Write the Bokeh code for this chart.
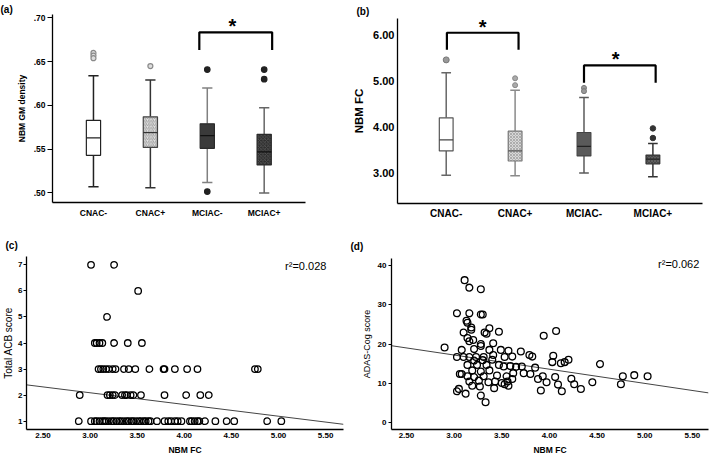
from bokeh.plotting import figure
from bokeh.layouts import column, row
from bokeh.models import (FixedTicker, CustomJSTickFormatter, PrintfTickFormatter,
                          Label, Range1d)
from bokeh.embed import file_html
from bokeh.resources import INLINE

FONT = "Liberation Sans"

groups = ["CNAC-", "CNAC+", "MCIAC-", "MCIAC+"]

# ---- panel (a): NBM GM density box plots ----
gm_q1 = [0.543, 0.552, 0.551, 0.532]
gm_med = [0.563, 0.569, 0.5655, 0.547]
gm_q3 = [0.583, 0.587, 0.579, 0.567]
gm_lo = [0.507, 0.506, 0.512, 0.500]
gm_hi = [0.634, 0.629, 0.620, 0.5975]
gm_out_group = [0, 0, 0, 1, 2, 2, 3, 3]
gm_out_val = [0.660, 0.657, 0.654, 0.645, 0.641, 0.5015, 0.641, 0.630]

# ---- panel (b): NBM FC box plots ----
fc_q1 = [3.47, 3.25, 3.36, 3.19]
fc_med = [3.71, 3.47, 3.57, 3.29]
fc_q3 = [4.19, 3.90, 3.87, 3.38]
fc_lo = [2.94, 2.93, 2.99, 2.91]
fc_hi = [5.17, 4.79, 4.63, 3.63]
fc_out_group = [0, 1, 1, 2, 2, 3, 3]
fc_out_val = [5.45, 5.05, 4.90, 4.84, 4.77, 3.96, 3.75]

# ---- panel (c): NBM FC vs total ACB score ----
acb_fc = [
    2.88, 3.01, 3.05, 3.07, 3.10, 3.13, 3.15, 3.17, 3.20, 3.23, 3.25, 3.28, 3.31, 3.33,
    3.36, 3.39, 3.41, 3.44, 3.46, 3.49, 3.52, 3.54, 3.57, 3.59, 3.62, 3.64, 3.71, 3.79,
    3.83, 3.86, 3.90, 3.93, 3.97, 4.06, 4.08, 4.11, 4.14, 4.16, 4.22, 4.33, 4.45, 4.53,
    4.88, 5.03,
    2.89, 3.185, 3.21, 3.24, 3.265, 3.34, 3.37, 3.39, 3.43, 3.46, 3.54, 3.79, 4.02, 4.17, 4.26,
    3.09, 3.115, 3.14, 3.17, 3.20, 3.24, 3.27, 3.36, 3.41, 3.48, 3.63, 3.78, 3.79, 3.90,
    4.03, 4.14, 4.75, 4.78,
    3.05, 3.07, 3.10, 3.13, 3.255, 3.40, 3.55,
    3.18,
    3.51,
    3.01, 3.255,
]
acb_score = [1] * 44 + [2] * 15 + [3] * 18 + [4] * 7 + [5] + [6] + [7] * 2
acb_fit_intercept = 3.44
acb_fit_slope = -0.45

# ---- panel (d): NBM FC vs ADAS-Cog score ----
adas_fc = [
    3.11, 3.16, 3.28, 3.03, 3.16, 3.28, 3.30, 3.13, 3.14, 3.18, 3.18, 3.37, 3.32, 3.47,
    3.10, 3.34, 3.14, 3.16, 3.20, 3.28, 3.41, 3.28, 2.90, 3.08, 3.21, 3.37, 3.49, 3.57,
    3.70, 3.79, 3.03, 3.10, 3.16, 3.31, 3.41, 3.61, 3.53, 3.23,
    3.21, 3.30, 3.40, 3.14, 3.24, 3.34, 3.47, 3.52, 3.59, 3.65, 3.71, 3.19, 3.28, 3.37,
    3.62, 3.73, 3.08, 3.06, 3.14, 3.21, 3.31, 3.45, 3.55, 3.61, 3.16, 3.26, 3.36, 3.43,
    3.50, 3.56, 3.19, 3.27, 3.42, 3.53, 3.57, 3.03, 3.05, 3.12, 3.28, 3.33,
    3.94, 4.07, 3.82, 4.04, 4.03, 4.12, 4.16, 4.20, 4.53, 3.85, 3.80, 3.88, 3.93, 3.97,
    4.06, 4.09, 4.23, 4.26, 4.33, 4.45, 3.91, 4.13, 4.75, 4.77, 4.89, 5.03,
]
adas_score = [
    36.2, 34.3, 33.9, 27.8, 27.8, 27.5, 27.5, 25.9, 25.4, 24.2, 23.6, 24.0, 22.9, 23.1,
    22.9, 22.6, 21.5, 20.7, 21.0, 20.0, 20.2, 19.5, 19.1, 18.5, 18.7, 18.5, 18.5, 18.3,
    18.1, 17.2, 16.7, 16.7, 16.7, 16.7, 17.2, 16.8, 16.7, 16.7,
    15.8, 15.9, 16.0, 14.7, 14.7, 14.7, 14.7, 14.3, 14.4, 14.2, 14.3, 13.3, 13.0, 13.3,
    12.6, 12.6, 12.4, 12.4, 11.8, 11.6, 11.8, 12.0, 11.8, 11.1, 10.5, 10.7, 10.3, 10.5,
    10.1, 10.5, 9.4, 9.2, 8.8, 9.8, 9.4, 8.0, 8.6, 7.4, 6.9, 5.2,
    22.1, 23.3, 16.8, 17.0, 15.4, 15.1, 15.4, 16.0, 14.9, 14.0, 12.4, 11.1, 11.8, 10.3,
    11.6, 9.7, 11.2, 9.8, 8.6, 10.3, 8.2, 8.0, 9.8, 11.8, 12.1, 11.8,
]
adas_fit_intercept = 28.0
adas_fit_slope = -3.6


def make_fig(title, w, h, xr, yr, left, right, top, bottom, title_standoff):
    p = figure(width=w, height=h, x_range=Range1d(*xr), y_range=Range1d(*yr),
               output_backend="svg", toolbar_location=None, title=title,
               min_border_left=left, min_border_right=right,
               min_border_top=top, min_border_bottom=bottom, frame_align=False)
    p.title.align = "left"
    p.title.offset = -left
    p.title.standoff = title_standoff
    p.title.text_font = FONT
    p.title.text_font_style = "bold"
    p.title.text_font_size = "10px"
    p.title.text_color = "black"
    p.xgrid.visible = False
    p.ygrid.visible = False
    p.outline_line_color = None
    p.border_fill_color = "white"
    p.background_fill_color = "white"
    for ax in (p.xaxis[0], p.yaxis[0]):
        ax.axis_line_color = "black"
        ax.axis_line_width = 1.3
        ax.major_tick_in = 0
        ax.minor_tick_line_color = None
        ax.major_label_text_font = FONT
        ax.major_label_text_font_style = "bold"
        ax.major_label_text_color = "black"
        ax.axis_label_text_font = FONT
        ax.axis_label_text_color = "black"
    return p


def draw_boxes(p, q1, med, q3, lo, hi, styles, bw, cw):
    for i in range(len(q1)):
        s = styles[i]
        p.segment(x0=[i, i], y0=[q3[i], q1[i]], x1=[i, i], y1=[hi[i], lo[i]],
                  line_color=s["wc"], line_width=1.5)
        p.segment(x0=[i - cw / 2, i - cw / 2], y0=[hi[i], lo[i]],
                  x1=[i + cw / 2, i + cw / 2], y1=[hi[i], lo[i]],
                  line_color=s["wc"], line_width=1.5)
        p.vbar(x=[i], width=bw, bottom=[q1[i]], top=[q3[i]], fill_color=s["fill"],
               line_color=s["lc"], line_width=1.2, hatch_pattern=s.get("hatch"),
               hatch_color=s.get("hc", "black"), hatch_scale=s.get("hs", 4),
               hatch_weight=s.get("hw", 0.7))
        p.segment(x0=[i - bw / 2], y0=[med[i]], x1=[i + bw / 2], y1=[med[i]],
                  line_color=s["mc"], line_width=1.3)


def bracket(p, x0, x1, ytop, ybot, star_x, star_y, size):
    p.line(x=[x0, x0, x1, x1], y=[ybot, ytop, ytop, ybot], line_color="black", line_width=2.2)
    p.add_layout(Label(x=star_x, y=star_y, text="*", text_font=FONT,
                       text_font_style="bold", text_font_size=size, text_align="center",
                       text_baseline="alphabetic", text_color="black"))


# ================= (a) =================
pa = make_fig("(a)", 350, 230, (-0.72, 3.726), (0.489, 0.704), 52, 45, 14, 28, 0)
pa.xaxis.ticker = FixedTicker(ticks=[0, 1, 2, 3])
pa.xaxis.major_label_overrides = {i: g for i, g in enumerate(groups)}
pa.xaxis.major_tick_out = 0
pa.xaxis.major_label_text_font_size = "8.5px"
pa.xaxis.major_label_standoff = 5
pa.yaxis.ticker = FixedTicker(ticks=[0.50, 0.55, 0.60, 0.65, 0.70])
pa.yaxis.formatter = CustomJSTickFormatter(code="return tick.toFixed(2).replace(/^0/, '');")
pa.yaxis.major_tick_out = 5
pa.yaxis.major_tick_line_width = 1.2
pa.yaxis.major_label_standoff = 2
pa.yaxis.major_label_text_font_size = "8.5px"
pa.yaxis.axis_label = "NBM GM density"
pa.yaxis.axis_label_text_font_size = "8.5px"
pa.yaxis.axis_label_text_font_style = "bold"
pa.yaxis.axis_label_standoff = 4

styles_a = [
    dict(fill="white", lc="#222222", wc="#222222", mc="#222222"),
    dict(fill="#e4e4e4", lc="#444444", wc="#333333", mc="#333333", hatch="/", hc="#8a8a8a", hs=3.5, hw=0.8),
    dict(fill="#3a3a3a", lc="#2a2a2a", wc="#808080", mc="#111111"),
    dict(fill="#2e2e2e", lc="#2a2a2a", wc="#666666", mc="#111111", hatch="x", hc="#5a5a5a", hs=3.5, hw=0.8),
]
draw_boxes(pa, gm_q1, gm_med, gm_q3, gm_lo, gm_hi, styles_a, 0.25, 0.18)
out_style_a = {0: ("#dddddd", "#8a8a8a", 5), 1: ("#dddddd", "#8a8a8a", 5),
               2: ("#222222", "#222222", 5.5), 3: ("#222222", "#222222", 5.5)}
for g, v in zip(gm_out_group, gm_out_val):
    fcol, lcol, sz = out_style_a[g]
    pa.scatter(x=[g], y=[v], marker="circle", size=sz, fill_color=fcol, line_color=lcol, line_width=1.2)
bracket(pa, 1.86, 3.14, 0.6836, 0.6634, 2.44, 0.6906, "20px")

# ================= (b) =================
pb = make_fig("(b)", 359, 230, (-0.707, 3.72), (2.326, 6.35), 41, 7, 18, 27, 4)
pb.xaxis.ticker = FixedTicker(ticks=[0, 1, 2, 3])
pb.xaxis.major_label_overrides = {i: g for i, g in enumerate(groups)}
pb.xaxis.major_tick_out = 0
pb.xaxis.major_label_text_font_size = "10px"
pb.xaxis.major_label_standoff = 4
pb.yaxis.ticker = FixedTicker(ticks=[3, 4, 5, 6])
pb.yaxis.formatter = PrintfTickFormatter(format="%.2f")
pb.yaxis.major_tick_out = 0
pb.yaxis.major_label_standoff = 3
pb.yaxis.major_label_text_font_size = "11px"
pb.yaxis.axis_label = "NBM FC"
pb.yaxis.axis_label_text_font_size = "11.5px"
pb.yaxis.axis_label_text_font_style = "bold"
pb.yaxis.axis_label_standoff = 5

styles_b = [
    dict(fill="white", lc="#555555", wc="#666666", mc="#444444"),
    dict(fill="#d8d8d8", lc="#777777", wc="#8a8a8a", mc="#555555", hatch="x", hc="#9a9a9a", hs=3, hw=0.7),
    dict(fill="#5a5a5a", lc="#444444", wc="#5a5a5a", mc="#222222"),
    dict(fill="#484848", lc="#333333", wc="#333333", mc="#222222", hatch="x", hc="#6a6a6a", hs=3, hw=0.7),
]
draw_boxes(pb, fc_q1, fc_med, fc_q3, fc_lo, fc_hi, styles_b, 0.2, 0.14)
out_style_b = {0: ("#999999", "#777777", 6), 1: ("#aaaaaa", "#888888", 5),
               2: ("#999999", "#777777", 5), 3: ("#333333", "#333333", 5.5)}
for g, v in zip(fc_out_group, fc_out_val):
    fcol, lcol, sz = out_style_b[g]
    pb.scatter(x=[g], y=[v], marker="circle", size=sz, fill_color=fcol, line_color=lcol, line_width=1.0)
bracket(pb, 0.01, 1.05, 6.04, 5.67, 0.53, 6.17, "20px")
bracket(pb, 2.0, 3.04, 5.33, 4.95, 2.46, 5.46, "20px")


def scatter_axes(p, ylabel, ylabel_size):
    p.xaxis.ticker = FixedTicker(ticks=[2.5, 3.0, 3.5, 4.0, 4.5, 5.0, 5.5])
    p.xaxis.formatter = PrintfTickFormatter(format="%.2f")
    p.xaxis.major_tick_out = 0
    p.xaxis.major_label_standoff = 3
    p.xaxis.major_label_text_font_size = "8px"
    p.xaxis.axis_label = "NBM FC"
    p.xaxis.axis_label_text_font_size = "8.5px"
    p.xaxis.axis_label_text_font_style = "bold"
    p.xaxis.axis_label_standoff = 4
    p.yaxis.major_tick_out = 3
    p.yaxis.major_tick_line_width = 1.2
    p.yaxis.major_label_standoff = 2
    p.yaxis.major_label_text_font_size = "8px"
    p.yaxis.axis_label = ylabel
    p.yaxis.axis_label_text_font_size = ylabel_size
    p.yaxis.axis_label_text_font_style = "normal"
    p.yaxis.axis_label_standoff = 3


# ================= (c) =================
xc = (2.325, 5.69)
pc = make_fig("(c)", 350, 227, xc, (0.68, 7.32), 21, 7, 26, 28, 12)
scatter_axes(pc, "Total ACB score", "10px")
pc.yaxis.major_label_standoff = 1
pc.yaxis.axis_label_standoff = 1
pc.yaxis.ticker = FixedTicker(ticks=[1, 2, 3, 4, 5, 6, 7])
pc.line(x=list(xc), y=[acb_fit_intercept + acb_fit_slope * v for v in xc],
        line_color="#444444", line_width=1.0)
pc.scatter(x=acb_fc, y=acb_score, marker="circle", size=6.5, fill_color=None,
           line_color="black", line_width=1.3)
pc.add_layout(Label(x=5.07, y=6.97, text="r²=0.028", text_font=FONT, text_font_size="11px",
                    text_baseline="middle", text_align="left", text_color="black"))

# ================= (d) =================
xd = (2.343, 5.669)
pd = make_fig("(d)", 359, 227, xd, (-1.7, 41.7), 41, 1, 28, 27, 14)
scatter_axes(pd, "ADAS-Cog score", "9px")
pd.yaxis.ticker = FixedTicker(ticks=[0, 10, 20, 30, 40])
pd.line(x=list(xd), y=[adas_fit_intercept + adas_fit_slope * v for v in xd],
        line_color="#444444", line_width=1.0)
pd.scatter(x=adas_fc, y=adas_score, marker="circle", size=6.8, fill_color=None,
           line_color="black", line_width=1.3)
pd.add_layout(Label(x=5.14, y=40.4, text="r²=0.062", text_font=FONT, text_font_size="11px",
                    text_baseline="middle", text_align="left", text_color="black"))

layout = column(row(pa, pb), row(pc, pd))
open("out.html", "w").write(file_html(layout, INLINE))
